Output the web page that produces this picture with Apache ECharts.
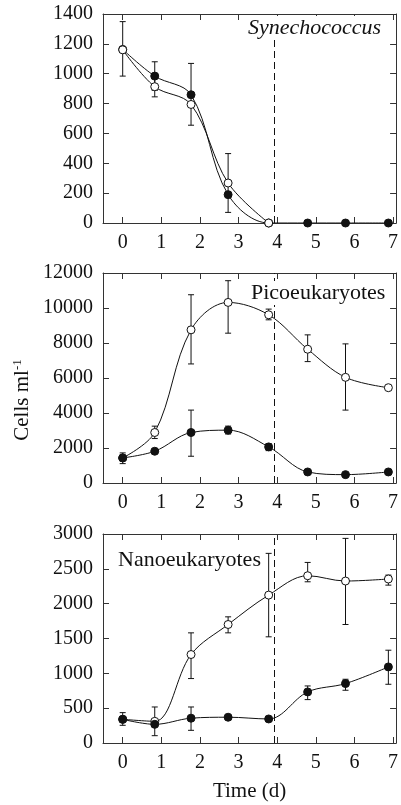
<!DOCTYPE html>
<html>
<head>
<meta charset="utf-8">
<script src="https://cdn.jsdelivr.net/npm/echarts@6/dist/echarts.min.js"></script>
<style>html,body{margin:0;padding:0;background:#fff}#c{width:401px;height:805px}</style>
</head>
<body>
<div id="c"></div>
<script>
// ---- data ----
const days = [0, 0.83, 1.77, 2.73, 3.78, 4.79, 5.77, 6.88];
const xTicks = [0, 1, 2, 3, 4, 5, 6, 7];
const dashDay = 3.92;

const synFilled = [1163, 984, 859, 190, 0, 0, 0, 0];
const synOpen = [1160, 913, 794, 268, 0, null, null, null];
const synFilledLo = [984, 888, 655, null, null, null, null, null];
const synFilledHi = [1349, 1080, 1069, null, null, null, null, null];
const synOpenLo = [null, 845, null, 71, null, null, null, null];
const synOpenHi = [null, 981, null, 465, null, null, null, null];

const picoOpen = [1433, 2885, 8752, 10319, 9612, 7644, 6038, 5446];
const picoFilled = [1433, 1815, 2885, 3019, 2064, 631, 478, 631];
const picoOpenLo = [null, 2541, 6803, 8561, 9325, 6937, 4166, null];
const picoOpenHi = [null, 3249, 10758, 11560, 9937, 8465, 7950, null];
const picoFilledLo = [1108, null, 1529, 2800, 1850, null, null, null];
const picoFilledHi = [1720, null, 4166, 3250, 2250, null, null, null];

const nanoOpen = [340, 311, 1270, 1701, 2123, 2401, 2325, 2354];
const nanoFilled = [340, 268, 356, 370, 345, 733, 853, 1092];
const nanoOpenLo = [null, 105, 925, 1581, 1524, 2314, 1701, 2266];
const nanoOpenHi = [null, 517, 1581, 1811, 2722, 2592, 2937, 2410];
const nanoFilledLo = [254, null, 182, null, null, 623, 757, 843];
const nanoFilledHi = [436, null, 517, null, null, 819, 915, 1332];

const panelNames = ['Synechococcus', 'Picoeukaryotes', 'Nanoeukaryotes'];
const yMaxes = [1400, 12000, 3000];
const yIntervals = [200, 2000, 500];

// ---- chart ----
const FONT = 'Liberation Serif';
const INK = '#111';
const AX = '#333';
const grids = [
  {left: 103, width: 297, top: 14, height: 209},
  {left: 103, width: 297, top: 273, height: 210},
  {left: 103, width: 297, top: 534, height: 209}
];

function pairs(vals) { return days.map((d, i) => [d, vals[i]]); }
function errData(lo, hi) {
  const out = [];
  days.forEach((d, i) => { if (lo[i] != null && hi[i] != null) out.push([d, lo[i], hi[i]]); });
  return out;
}
const plain = v => String(v);

const xAxes = [], yAxes = [], series = [];
grids.forEach((g, k) => {
  const common = {
    type: 'value', gridIndex: k, min: -0.51, max: 7.08,
    axisLine: {show: true, onZero: false, lineStyle: {color: AX, width: 1}},
    axisTick: {show: true, inside: true, length: 6, customValues: xTicks, lineStyle: {color: AX}},
    splitLine: {show: false}
  };
  xAxes.push(Object.assign({}, common, {
    position: 'bottom',
    axisLabel: {show: true, customValues: xTicks, formatter: plain, margin: 10, fontFamily: FONT, fontSize: 20, color: INK},
    name: k === 2 ? 'Time (d)' : '',
    nameLocation: 'middle', nameGap: 38,
    nameTextStyle: {fontFamily: FONT, fontSize: 21, color: INK}
  }));
  xAxes.push(Object.assign({}, common, {position: 'top', axisLabel: {show: false}}));
  const yc = {
    type: 'value', gridIndex: k, min: 0, max: yMaxes[k], interval: yIntervals[k],
    axisLine: {show: true, onZero: false, lineStyle: {color: AX, width: 1}},
    axisTick: {show: true, inside: true, length: 6, lineStyle: {color: AX}},
    splitLine: {show: false}
  };
  yAxes.push(Object.assign({}, yc, {
    position: 'left',
    axisLabel: {show: true, formatter: plain, margin: 10, fontFamily: FONT, fontSize: 20, color: INK}
  }));
  yAxes.push(Object.assign({}, yc, {position: 'right', axisLabel: {show: false}}));
});

function addPanel(k, filled, open, fLo, fHi, oLo, oHi) {
  const xi = 2 * k, yi = 2 * k;
  const errRender = function (params, api) {
    const x = api.value(0);
    const p1 = api.coord([x, api.value(1)]);
    const p2 = api.coord([x, api.value(2)]);
    const w = 3;
    const st = {stroke: INK, lineWidth: 1};
    return {type: 'group', children: [
      {type: 'line', shape: {x1: p1[0], y1: p1[1], x2: p2[0], y2: p2[1]}, style: st},
      {type: 'line', shape: {x1: p1[0] - w, y1: p1[1], x2: p1[0] + w, y2: p1[1]}, style: st},
      {type: 'line', shape: {x1: p2[0] - w, y1: p2[1], x2: p2[0] + w, y2: p2[1]}, style: st}
    ]};
  };
  series.push({type: 'custom', xAxisIndex: xi, yAxisIndex: yi, renderItem: errRender,
    data: errData(oLo, oHi), encode: {x: 0, y: [1, 2]}, z: 1, silent: true});
  series.push({type: 'custom', xAxisIndex: xi, yAxisIndex: yi, renderItem: errRender,
    data: errData(fLo, fHi), encode: {x: 0, y: [1, 2]}, z: 1, silent: true});
  series.push({
    type: 'line', xAxisIndex: xi, yAxisIndex: yi, data: pairs(filled), smooth: 0.35,
    symbol: 'circle', symbolSize: 8, showAllSymbol: true,
    lineStyle: {color: INK, width: 1}, itemStyle: {color: INK, borderColor: INK, borderWidth: 1},
    z: k === 0 ? 2 : 3, animation: false,
    markLine: {silent: true, symbol: 'none', label: {show: false},
      lineStyle: {color: INK, type: [7, 4], width: 1},
      data: [{xAxis: dashDay}]}
  });
  series.push({
    type: 'line', xAxisIndex: xi, yAxisIndex: yi, data: pairs(open), smooth: 0.35,
    symbol: 'circle', symbolSize: 8, showAllSymbol: true, connectNulls: false,
    lineStyle: {color: INK, width: 1}, itemStyle: {color: '#fff', borderColor: INK, borderWidth: 1},
    z: k === 0 ? 3 : 2, animation: false
  });
}
addPanel(0, synFilled, synOpen, synFilledLo, synFilledHi, synOpenLo, synOpenHi);
addPanel(1, picoFilled, picoOpen, picoFilledLo, picoFilledHi, picoOpenLo, picoOpenHi);
addPanel(2, nanoFilled, nanoOpen, nanoFilledLo, nanoFilledHi, nanoOpenLo, nanoOpenHi);

const labelStyle = {fontFamily: FONT, fontSize: 22, fill: INK, backgroundColor: '#fff', padding: [1, 2]};
const chart = echarts.init(document.getElementById('c'), null, {renderer: 'canvas'});
chart.setOption({
  animation: false,
  grid: grids,
  xAxis: xAxes,
  yAxis: yAxes,
  series: series,
  graphic: [
    {type: 'text', x: 246, y: 28, z: 10, style: Object.assign({}, labelStyle, {text: panelNames[0], fontStyle: 'italic', verticalAlign: 'middle'})},
    {type: 'text', x: 249, y: 293, z: 10, style: Object.assign({}, labelStyle, {text: panelNames[1], verticalAlign: 'middle'})},
    {type: 'text', x: 116, y: 560, z: 10, style: Object.assign({}, labelStyle, {text: panelNames[2], verticalAlign: 'middle'})},
    {type: 'text', x: 22, y: 400, rotation: Math.PI / 2, z: 10, style: {
      text: '{a|Cells ml}{b|-1}', align: 'center', verticalAlign: 'middle',
      rich: {
        a: {fontFamily: FONT, fontSize: 21, fill: INK, lineHeight: 22},
        b: {fontFamily: FONT, fontSize: 13, fill: INK, verticalAlign: 'top', lineHeight: 14}
      }
    }}
  ]
});
</script>
</body>
</html>
